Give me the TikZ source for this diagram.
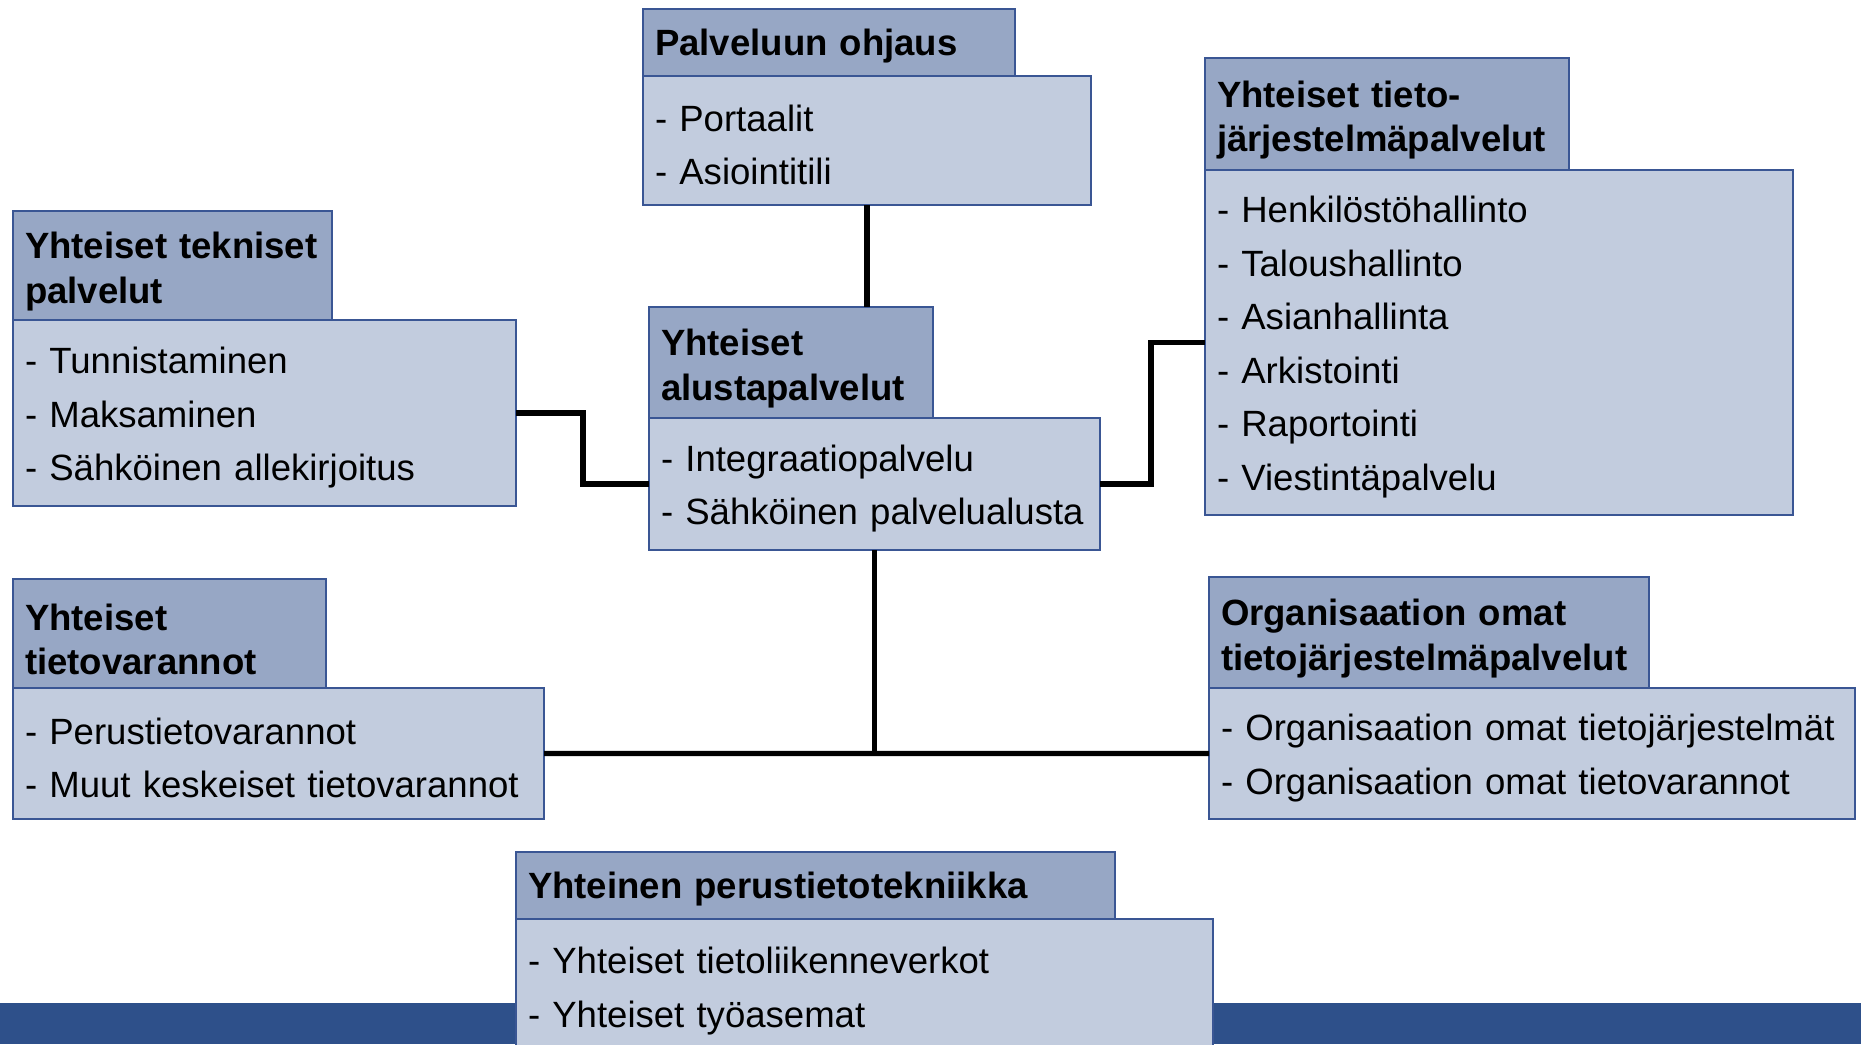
\documentclass[tikz,border=0pt]{standalone}
\usepackage{fontspec}
\setmainfont{Liberation Sans}
\usetikzlibrary{positioning}

\definecolor{headfill}{RGB}{151,167,197}
\definecolor{bodyfill}{RGB}{194,204,222}
\definecolor{boxline}{RGB}{58,86,148}
\definecolor{bandblue}{RGB}{46,80,138}

\tikzset{
  headbox/.style={draw=boxline, fill=headfill, line width=0.8pt, anchor=north west,
    align=left, inner xsep=0.12cm, inner ysep=0pt, outer sep=0pt,
    execute at end node={\par\vspace*{-3.4pt}},
    font=\fontsize{10.4}{12.6}\selectfont\bfseries},
  bodybox/.style={draw=boxline, fill=bodyfill, line width=0.8pt, anchor=north west,
    align=left, inner xsep=0.12cm, inner ysep=0pt, outer sep=0pt,
    execute at end node={\par\vspace*{-2.6pt}},
    font=\fontsize{10.4}{15.2}\selectfont},
  boxsize/.style 2 args={text width=#1cm, minimum height=#2cm},
  conn/.style={line width=1.5pt, black}
}

\begin{document}
\begin{tikzpicture}
    \useasboundingbox (0,0) rectangle (18.61,-10.44);

    % Bottom band
    \fill[bandblue] (0,-10.03) rectangle (18.61,-10.44);

    % Palveluun ohjaus
    \node[headbox, boxsize={3.48}{0.67}] (ohjH) at (6.43,-0.09) {Palveluun ohjaus};
    \node[bodybox, boxsize={4.24}{1.29}] (ohjB) at (ohjH.south west) {- Portaalit\\- Asiointitili};

    % Yhteiset tekniset palvelut
    \node[headbox, boxsize={2.95}{1.09}] (tekH) at (0.13,-2.11) {Yhteiset tekniset\\palvelut};
    \node[bodybox, boxsize={4.79}{1.86}] (tekB) at (tekH.south west) {- Tunnistaminen\\- Maksaminen\\- Sähköinen allekirjoitus};

    % Yhteiset alustapalvelut
    \node[headbox, boxsize={2.60}{1.11}] (aluH) at (6.49,-3.07) {Yhteiset\\alustapalvelut};
    \node[bodybox, boxsize={4.27}{1.32}] (aluB) at (aluH.south west) {- Integraatiopalvelu\\- Sähköinen palvelualusta};

    % Yhteiset tietojarjestelmapalvelut
    \node[headbox, boxsize={3.40}{1.12}] (tjH) at (12.05,-0.58) {Yhteiset tieto-\\järjestelmäpalvelut};
    \node[bodybox, boxsize={5.64}{3.45}] (tjB) at (tjH.south west) {- Henkilöstöhallinto\\- Taloushallinto\\- Asianhallinta\\- Arkistointi\\- Raportointi\\- Viestintäpalvelu};

    % Yhteiset tietovarannot
    \node[headbox, boxsize={2.89}{1.09}] (varH) at (0.13,-5.79) {Yhteiset\\tietovarannot};
    \node[bodybox, boxsize={5.07}{1.31}] (varB) at (varH.south west) {- Perustietovarannot\\- Muut keskeiset tietovarannot};

    % Organisaation omat
    \node[headbox, boxsize={4.16}{1.11}] (orgH) at (12.09,-5.77) {Organisaation omat\\tietojärjestelmäpalvelut};
    \node[bodybox, boxsize={6.22}{1.31}] (orgB) at (orgH.south west) {- Organisaation omat tietojärjestelmät\\- Organisaation omat tietovarannot};

    % Yhteinen perustietotekniikka
    \node[headbox, boxsize={5.75}{0.67}] (perH) at (5.16,-8.52) {Yhteinen perustietotekniikka};
    \node[bodybox, boxsize={6.73}{1.35}] (perB) at (perH.south west) {- Yhteiset tietoliikenneverkot\\- Yhteiset työasemat};

    % Connectors
    \draw[conn] (ohjB.south) -- (ohjB.south |- aluH.north);
    \draw[conn] (tekB.east) -- ++(0.67,0) |- (aluB.west);
    \draw[conn] (aluB.east) -- ++(0.51,0) |- (tjB.west);
    \draw[conn] (aluB.south) -- (aluB.south |- varB.east);
    \draw[conn] (varB.east) -- (orgB.west);
\end{tikzpicture}
\end{document}
